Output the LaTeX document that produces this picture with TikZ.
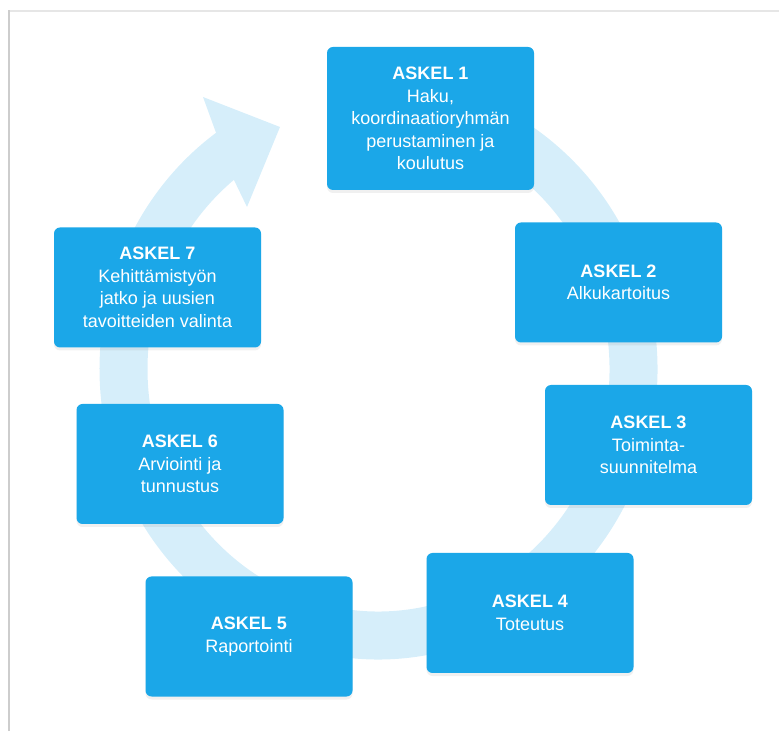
\documentclass[tikz,border=0pt]{standalone}
\usepackage{fontspec}
\setmainfont{Liberation Sans}
\usetikzlibrary{shadows}
\definecolor{stepblue}{RGB}{27,167,232}
\definecolor{ringblue}{RGB}{214,238,250}
\definecolor{framegray}{RGB}{205,205,205}
\definecolor{framelight}{RGB}{230,230,230}
\tikzset{
  stepbox/.style={fill=stepblue, rounded corners=6pt, text=white, align=center,
    minimum width=207pt, minimum height=120pt, inner sep=0pt,
    font=\fontsize{18}{22.5}\selectfont,
    drop shadow={opacity=0.12, shadow xshift=0pt, shadow yshift=-3pt}},
}
\newcommand{\steptitle}[1]{\textbf{ASKEL #1}}

\begin{document}
\begin{tikzpicture}[x=1pt,y=1pt]
  \useasboundingbox (0,0) rectangle (779,731);
  % Frame
  \draw[framelight, line width=1.5pt] (9,720) -- (779,720);
  \draw[framegray, line width=1.5pt] (9,0) -- (9,720.75);
  % Cycle ring
  \draw[ringblue, line width=48pt] ([shift={(98:255 and 266.5)}]378.5,362)
    arc[start angle=98, end angle=-236, x radius=255, y radius=266.5];
  % Arrow head
  \fill[ringblue] (215,601) -- (203,634) -- (280,604) -- (247,524) -- (233,553) -- cycle;
  % Steps
  \node[stepbox, minimum height=143pt] (step1) at (430.5,612.5)
    {\steptitle{1}\\Haku,\\koordinaatioryhmän\\perustaminen ja\\koulutus};
  \node[stepbox] (step2) at (618.5,448.5) {\steptitle{2}\\Alkukartoitus};
  \node[stepbox] (step3) at (648.5,286) {\steptitle{3}\\Toiminta-\\suunnitelma};
  \node[stepbox] (step4) at (530,118) {\steptitle{4}\\Toteutus};
  \node[stepbox] (step5) at (249,94.5) {\steptitle{5}\\Raportointi};
  \node[stepbox] (step6) at (180,267) {\steptitle{6}\\Arviointi ja\\tunnustus};
  \node[stepbox] (step7) at (157.5,443.5)
    {\steptitle{7}\\Kehittämistyön\\jatko ja uusien\\tavoitteiden valinta};
\end{tikzpicture}
\end{document}
